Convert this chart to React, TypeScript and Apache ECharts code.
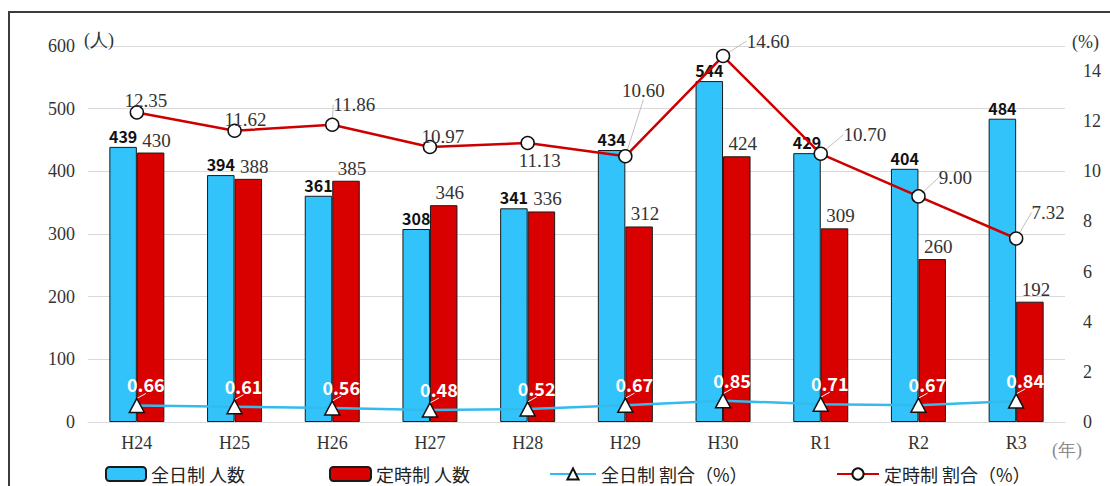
import React, { useEffect, useRef } from "react";
import * as echarts from "echarts";

const categories = ["H24", "H25", "H26", "H27", "H28", "H29", "H30", "R1", "R2", "R3"];
const fullTimeCounts = [439, 394, 361, 308, 341, 434, 544, 429, 404, 484];
const partTimeCounts = [430, 388, 385, 346, 336, 312, 424, 309, 260, 192];
const fullTimeRates = [0.66, 0.61, 0.56, 0.48, 0.52, 0.67, 0.85, 0.71, 0.67, 0.84];
const partTimeRates = [12.35, 11.62, 11.86, 10.97, 11.13, 10.6, 14.6, 10.7, 9.0, 7.32];

const seriesNames = ["全日制 人数", "定時制 人数", "全日制 割合（%）", "定時制 割合（%）"];

const SERIF = '"Liberation Serif", "DejaVu Serif", serif';
const GOTHIC = '"Noto Sans CJK JP", "Noto Sans", sans-serif';

export default function App() {
  const ref = useRef<HTMLDivElement>(null);

  useEffect(() => {
    document.body.style.margin = "0";
    const chart = echarts.init(ref.current!, null, { renderer: "svg" });

    const redOffsets = [
      [9, -12], [11, -11], [22, -20], [13, -11], [12, 17],
      [18, -66], [45, -15], [44, -19], [37, -19], [32, -26],
    ];
    const redLeader = [false, false, true, false, false, true, true, true, true, true];

    const legendText = { fontFamily: GOTHIC, fontSize: 18, lineHeight: 20, color: "#222" };

    const option: any = {
      animation: false,
      backgroundColor: "#fff",
      grid: { left: 88, right: 45, top: 46, bottom: 64 },
      legend: [
        { data: [seriesNames[0]], left: 105, top: 464, itemWidth: 40, itemHeight: 14, padding: 0, textStyle: legendText },
        { data: [seriesNames[1]], left: 329, top: 464, itemWidth: 41, itemHeight: 14, padding: 0, textStyle: legendText },
        { data: [seriesNames[2]], left: 549, top: 464, itemWidth: 46, itemHeight: 14, padding: 0, textStyle: legendText },
        { data: [seriesNames[3]], left: 836, top: 464, itemWidth: 42, itemHeight: 14, padding: 0, textStyle: legendText },
      ],
      graphic: [
        {
          type: "rect",
          z: -10,
          shape: { x: 9, y: 12, width: 1120, height: 500 },
          style: { fill: "none", stroke: "#3c3c3c", lineWidth: 2 },
        },
        {
          type: "text",
          left: 1052,
          top: 441,
          style: { text: "(年)", fill: "#8a8a8a", font: `18px ${SERIF}` },
        },
      ],
      xAxis: {
        type: "category",
        data: categories,
        axisTick: { show: false },
        axisLine: { lineStyle: { color: "#d9d9d9", width: 1 } },
        axisLabel: { fontFamily: SERIF, fontSize: 18, color: "#333", margin: 12 },
      },
      yAxis: [
        {
          type: "value",
          min: 0,
          max: 600,
          interval: 100,
          name: "(人)",
          nameLocation: "end",
          nameGap: 6,
          nameTextStyle: { fontFamily: SERIF, fontSize: 18, color: "#333", align: "left", verticalAlign: "middle", padding: [0, 0, 0, -4] },
          axisLine: { show: false },
          axisTick: { show: false },
          splitLine: { lineStyle: { color: "#d9d9d9", width: 1 } },
          axisLabel: { fontFamily: SERIF, fontSize: 18, color: "#333", margin: 13 },
        },
        {
          type: "value",
          min: 0,
          max: 15,
          interval: 2,
          name: "(%)",
          nameLocation: "end",
          nameGap: 4,
          nameTextStyle: { fontFamily: SERIF, fontSize: 18, color: "#333", align: "left", verticalAlign: "middle", padding: [0, 0, 0, 7] },
          axisLine: { show: false },
          axisTick: { show: false },
          splitLine: { show: false },
          axisLabel: { fontFamily: SERIF, fontSize: 18, color: "#333", margin: 18, showMaxLabel: false, align: "left" },
        },
      ],
      series: [
        {
          name: seriesNames[0],
          type: "bar",
          data: fullTimeCounts,
          barWidth: 27.5,
          barGap: "0%",
          itemStyle: { color: "#33C3FB", borderColor: "#1a1a1a", borderWidth: 1 },
          label: {
            show: true,
            position: "top",
            distance: 3,
            fontFamily: GOTHIC,
            fontWeight: "bold",
            fontSize: 16,
            color: "#111",
          },
          z: 2,
        },
        {
          name: seriesNames[1],
          type: "bar",
          data: partTimeCounts,
          barWidth: 27.5,
          barGap: "0%",
          itemStyle: { color: "#D90000", borderColor: "#1a1a1a", borderWidth: 1 },
          label: {
            show: true,
            position: "top",
            distance: 3,
            offset: [6, 0],
            fontFamily: SERIF,
            fontSize: 19,
            color: "#333",
          },
          z: 2,
        },
        {
          name: seriesNames[2],
          type: "line",
          yAxisIndex: 1,
          data: fullTimeRates,
          symbol: "triangle",
          symbolSize: [15, 14],
          lineStyle: { color: "#33BBEE", width: 2.5 },
          itemStyle: { color: "#fff", borderColor: "#111", borderWidth: 1.5 },
          z: 5,
          label: {
            show: true,
            position: "inside",
            formatter: (p: any) => p.value.toFixed(2),
            fontFamily: GOTHIC,
            fontWeight: "bold",
            fontSize: 18,
            color: "#fff",
          },
          labelLayout: () => ({ dx: 9, dy: -21 }),
          labelLine: { show: true, lineStyle: { color: "#fff", width: 1 } },
        },
        {
          name: seriesNames[3],
          type: "line",
          yAxisIndex: 1,
          data: partTimeRates.map((v, i) => ({
            value: v,
            labelLine: { show: redLeader[i] },
          })),
          symbol: "circle",
          symbolSize: 13,
          lineStyle: { color: "#CC0000", width: 2.5 },
          itemStyle: { color: "#fff", borderColor: "#111", borderWidth: 1.5 },
          z: 5,
          label: {
            show: true,
            position: "inside",
            formatter: (p: any) => p.value.toFixed(2),
            fontFamily: SERIF,
            fontSize: 19,
            color: "#333",
          },
          labelLayout: (p: any) => ({ dx: redOffsets[p.dataIndex][0], dy: redOffsets[p.dataIndex][1] }),
          labelLine: { show: true, lineStyle: { color: "#c0c0c0", width: 1 } },
        },
      ],
    };

    chart.setOption(option);
    return () => chart.dispose();
  }, []);

  return <div ref={ref} style={{ width: 1110, height: 486 }} />;
}
